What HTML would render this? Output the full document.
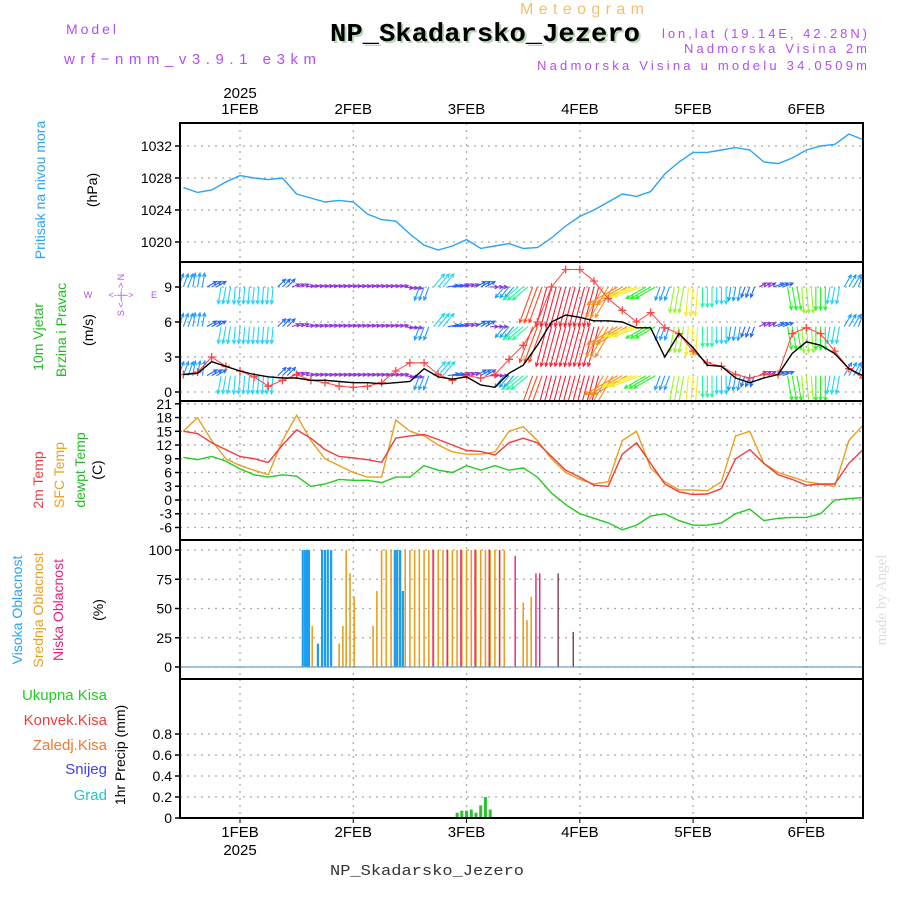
<!DOCTYPE html>
<html><head><meta charset="utf-8"><title>Meteogram NP_Skadarsko_Jezero</title>
<style>
html,body{margin:0;padding:0;background:#fff;}
svg{display:block;font-family:"Liberation Sans",sans-serif;}
</style></head>
<body>
<svg id="chart" width="900" height="900" viewBox="0 0 900 900" xmlns="http://www.w3.org/2000/svg">
<text x="582" y="14" fill="#f0c070" font-size="16" text-anchor="middle" textLength="124" lengthAdjust="spacing">Meteogram</text>
<text x="487" y="43" fill="#b8d8b8" font-size="26" font-weight="bold" font-family="Liberation Mono,monospace" text-anchor="middle" textLength="310" lengthAdjust="spacingAndGlyphs">NP_Skadarsko_Jezero</text>
<text x="485" y="41" fill="#000" font-size="26" font-weight="bold" font-family="Liberation Mono,monospace" text-anchor="middle" textLength="310" lengthAdjust="spacingAndGlyphs">NP_Skadarsko_Jezero</text>
<text x="66" y="34" fill="#b050f0" font-size="14" textLength="50" lengthAdjust="spacing">Model</text>
<text x="64" y="64" fill="#b050f0" font-size="15" textLength="252" lengthAdjust="spacing">wrf−nmm_v3.9.1 e3km</text>
<text x="867" y="38" fill="#b050f0" font-size="13" text-anchor="end" textLength="205" lengthAdjust="spacing">lon,lat (19.14E, 42.28N)</text>
<text x="867" y="53" fill="#b050f0" font-size="13" text-anchor="end" textLength="183" lengthAdjust="spacing">Nadmorska Visina 2m</text>
<text x="867" y="70" fill="#b050f0" font-size="13" text-anchor="end" textLength="330" lengthAdjust="spacing">Nadmorska Visina u modelu 34.0509m</text>
<text x="427" y="875" fill="#333" font-size="15" font-family="Liberation Mono,monospace" text-anchor="middle" textLength="194" lengthAdjust="spacingAndGlyphs">NP_Skadarsko_Jezero</text>
<text transform="translate(886,600) rotate(-90)" fill="#d8e0d8" font-size="15" font-family="Liberation Serif,serif" text-anchor="middle">made by Angel</text>
<g id="g"></g>
</svg>
<script>
const hours=[-12,-9,-6,-3,0,3,6,9,12,15,18,21,24,27,30,33,36,39,42,45,48,51,54,57,60,63,66,69,72,75,78,81,84,87,90,93,96,99,102,105,108,111,114,117,120,123,126,129,132];
const pressure=[1026.8,1026.2,1026.5,1027.5,1028.3,1028,1027.8,1028,1026,1025.5,1025,1025.2,1025,1023.5,1022.8,1022.6,1021,1019.6,1019,1019.5,1020.3,1019.2,1019.5,1019.8,1019.2,1019.3,1020.5,1022,1023.2,1024,1025,1026,1025.7,1026.3,1028.5,1030,1031.2,1031.2,1031.5,1031.8,1031.5,1030,1029.8,1030.5,1031.5,1032,1032.2,1033.5,1032.8];
const windSpeed=[1.5,1.6,2.6,2.2,1.8,1.5,1.3,1.2,1.2,1,1,0.9,0.8,0.8,0.7,0.8,0.9,2,1.3,1.1,1.3,0.6,0.4,1.6,2.3,4,6,6.6,6.4,6.1,6.1,6,5.5,5.5,3,5,3.8,2.3,2.2,1.2,0.8,1.2,1.5,3.3,4.3,4,3.3,2,1.4];
const windGust=[1.5,1.7,3,2.2,1.8,1.3,0.5,1,1.5,1,0.8,0.5,0.4,0.5,0.8,1.8,2.5,2.5,1.5,1,1.4,1.2,1.5,2.8,4,6,9,10.5,10.5,9.5,8,7,6,6.8,5.5,5,3.5,2.5,2.2,1.5,1.2,1.5,1.5,5,5.5,5,3.5,2,1.2];
const arrowSpeed=[3,3,2,4,4,4,4,2,1,1,1,1,1,1,1,1,1,3,4,2,1,2,1,3,5,11,12,12,12,12,10,10,8,6,3,7,8,5,4,3,2,1,2,6,7,6,4,3,3];
const arrowDir=[20,10,60,190,185,185,185,45,70,80,80,80,80,80,80,80,100,200,40,80,70,60,90,220,230,200,195,195,195,195,210,240,250,240,200,190,185,180,180,190,200,60,70,170,175,180,190,30,20];
const temp2m=[15,14.5,12.5,11,9.5,9,8.2,12,15.3,13.5,11,9.5,9.2,8.8,8.2,13.5,14,14.3,13.2,12,10.8,10.6,9.8,12.5,13.5,12.5,9.5,6.5,5,3.2,3,10,12.5,8,3.5,1.8,1.2,1.3,2.5,9,11,8,5.5,4.5,3.2,3.5,3.5,8,11];
const tempSfc=[15,18,13,9,7.5,6.5,5.5,13,18.5,13,9,7.5,6,5,5,17.5,15,14,12,10.5,10,10,10.5,15,16,13,9,6,4.5,3.5,4,13,15,7,4,2.2,2.2,2,4,14,15,8,6,5,4,3.5,3,13,16.3];
const dewpt=[9.3,8.8,9.5,8.5,6.8,5.5,5,5.5,5.2,3,3.5,4.5,4.3,4.3,3.8,5,5,7.5,6.5,6,7.5,6.5,7.5,6.5,7,5,1.5,-1,-3,-4,-5,-6.5,-5.5,-3.5,-3,-4.5,-5.5,-5.5,-5,-3,-2,-4.5,-4,-3.8,-3.8,-3,0,0.3,0.5];
const highCloudT=[13.3,13.8,14.2,14.6,16.5,17.4,18,18.6,19.3,32.8,33.3,33.9,34.5];
const highCloudV=[100,100,100,100,20,100,100,100,100,100,100,100,65];
const midCloudT=[15.3,21,21.8,22.5,23.3,24.2,28.2,29,30,31,32,33,34,35,36,37,38,39,40,41,42,43,44,45,46,47,48,49,50,51,52,53,54,55,56,60,60.8,61.7];
const midCloudV=[35,20,35,100,80,60,35,65,100,100,100,100,100,100,100,100,100,100,100,100,100,100,100,100,100,100,100,100,100,100,100,100,100,100,100,55,40,60];
const lowCloudT=[40.9,43.9,46.8,49.8,52.8,55,58.3,62.7,63.5];
const lowCloudV=[100,100,100,100,100,100,95,80,80];
const totCloudT=[67.4,70.6];
const totCloudV=[80,30];
const precipT=[46,47,48,49,50,51,52,53];
const precipV=[0.05,0.07,0.07,0.08,0.05,0.12,0.2,0.08];
const dayLabels=["1FEB","2FEB","3FEB","4FEB","5FEB","6FEB"];
const pTicks=[1020,1024,1028,1032];
const wTicks=[0,3,6,9];
const tTicks=[-6,-3,0,3,6,9,12,15,18,21];
const cTicks=[0,25,50,75,100];
const rTicks=[0,0.2,0.4,0.6,0.8];

const NS="http://www.w3.org/2000/svg";
const G=document.getElementById('g');
function mk(tag,attrs,parent){const e=document.createElementNS(NS,tag);for(const k in attrs)e.setAttribute(k,attrs[k]);(parent||G).appendChild(e);return e;}
const X0=180,X1=863;
function x(h){return 240+h*4.72;}
const P=[
 {top:123,bot:262,y:v=>146+(1032-v)*8,ticks:pTicks,name:'pressure'},
 {top:262,bot:401,y:v=>392-v*11.67,ticks:wTicks,name:'wind'},
 {top:401,bot:540,y:v=>500-v*4.58,ticks:tTicks,name:'temperature'},
 {top:540,bot:679,y:v=>667-v*1.17,ticks:cTicks,name:'cloud'},
 {top:679,bot:818,y:v=>818-v*105,ticks:rTicks,name:'precip'}
];
P.forEach(p=>{
  const gp=mk('g',{});
  
  
  for(let d=0;d<6;d++){const l=mk('line',{x1:x(d*24),x2:x(d*24),y1:p.top,y2:p.bot,stroke:'#aaa','stroke-dasharray':'2,5','stroke-width':1.3},gp);
    }
  p.ticks.forEach(t=>{const yy=p.y(t);if(yy<p.top-1||yy>p.bot+1)return;
    const l=mk('line',{x1:X0,x2:X1,y1:yy,y2:yy,stroke:'#aaa','stroke-dasharray':'2,5','stroke-width':1.3},gp);
    
    mk('line',{x1:X0-5,x2:X0,y1:yy,y2:yy,stroke:'#000','stroke-width':1.5},gp);
    const tx=mk('text',{x:X0-8,y:yy+5,'font-size':14,'text-anchor':'end',fill:'#000'},gp);tx.textContent=String(t);
    
  });
  p.g=gp;
});
function line(arr,p,color,name){
  const d=hours.map((h,i)=>(i?'L':'M')+x(h).toFixed(1)+','+p.y(arr[i]).toFixed(1)).join('');
  const e=mk('path',{d:d,fill:'none',stroke:color,'stroke-width':1.4});
  
}
const clip=mk('clipPath',{id:'cw'});mk('rect',{x:X0,y:262,width:X1-X0,height:139},clip);
line(pressure,P[0],'#2aa4f4','pressure-line');
function spdColor(s){if(s<1.5)return '#9030e0';const hue=s<2?245:s<4?220-(s-2)*15:s<6?190-(s-4)*35:s<8?120-(s-6)*32:s<10?56-(s-8)*13:30-(s-10)*18;return 'hsl('+((hue+360)%360)+',95%,55%)';}
const wg=mk('g',{'clip-path':'url(#cw)'});

[9,5.6,1.4].forEach((rowV,r)=>{
  hours.forEach((h,i)=>{
    [-1,0,1].forEach(o=>{
      const bx=x(h+o),by=P[1].y(rowV);
      const L=5+arrowSpeed[i]*3*(r==2?1.1:1);const a=arrowDir[i]*Math.PI/180;
      const ex=bx+L*Math.sin(a),ey=by-L*Math.cos(a);
      const c=spdColor(arrowSpeed[i]);
      const hx1=ex-4*Math.sin(a-0.45),hy1=ey+4*Math.cos(a-0.45),hx2=ex-4*Math.sin(a+0.45),hy2=ey+4*Math.cos(a+0.45);
      const ar=mk('path',{d:`M${bx},${by}L${ex},${ey}M${hx1},${hy1}L${ex},${ey}L${hx2},${hy2}`,stroke:c,'stroke-width':1.1,fill:'none'},wg);
      
    });
  });
});
const gg=mk('g',{'clip-path':'url(#cw)'});

const gd=hours.map((h,i)=>(i?'L':'M')+x(h)+','+P[1].y(windGust[i])).join('');
mk('path',{d:gd,fill:'none',stroke:'#f44','stroke-width':1},gg);
hours.forEach((h,i)=>{const cx=x(h),cy=P[1].y(windGust[i]);
  const m=mk('path',{d:`M${cx-4},${cy}H${cx+4}M${cx},${cy-4}V${cy+4}`,stroke:'#f44','stroke-width':1.3},gg);
  });
line(windSpeed,P[1],'#000','wind-speed-line');
line(tempSfc,P[2],'#e8a020','sfc-temp-line');
line(temp2m,P[2],'#f03c3c','temp-2m-line');
line(dewpt,P[2],'#22cc22','dewpoint-line');
function bars(T,V,p,color,w,name){T.forEach((t,i)=>{const yy=p.y(V[i]);const b=mk('rect',{x:x(t)-w/2,y:yy,width:w,height:p.y(0)-yy,fill:color});
  });}
bars(midCloudT,midCloudV,P[3],'#e8a020',1.6,'mid-cloud-bar');
bars(highCloudT,highCloudV,P[3],'#1a9ef0',2.2,'high-cloud-bar');
bars(lowCloudT,lowCloudV,P[3],'#e8207a',1.4,'low-cloud-bar');
bars(totCloudT,totCloudV,P[3],'#602040',1.2,'total-cloud-bar');
mk('line',{x1:X0,x2:X1,y1:667,y2:667,stroke:'#70a0c0','stroke-width':1.2});
bars(precipT,precipV,P[4],'#30c030',3,'precip-bar');
P.forEach(p=>{const r=mk('rect',{x:X0,y:p.top,width:X1-X0,height:p.bot-p.top,fill:'none',stroke:'#000','stroke-width':2});
  });
dayLabels.forEach((d,i)=>{
  const t1=mk('text',{x:x(i*24),y:114,'font-size':15,'text-anchor':'middle',fill:'#000'});t1.textContent=d;
  
  const t2=mk('text',{x:x(i*24),y:837,'font-size':15,'text-anchor':'middle',fill:'#000'});t2.textContent=d;
  
  mk('line',{x1:x(i*24),x2:x(i*24),y1:818,y2:823,stroke:'#000'});
});
const y1=mk('text',{x:x(0),y:98,'font-size':15,'text-anchor':'middle'});y1.textContent='2025';

const y2=mk('text',{x:x(0),y:855,'font-size':15,'text-anchor':'middle'});y2.textContent='2025';

function rot(txt,cx,cy,color,name,size){const t=mk('text',{transform:`translate(${cx},${cy}) rotate(-90)`,'text-anchor':'middle',fill:color,'font-size':size||14});t.textContent=txt;
  }
rot('Pritisak na nivou mora',45,190,'#2aa4f4','pressure-axis-title');
rot('(hPa)',97,190,'#000','pressure-unit');
rot('10m Vjetar',43,337,'#22bb22','wind-axis-title');
rot('Brzina i Pravac',66,330,'#22bb22','wind-axis-subtitle');
rot('(m/s)',93,330,'#000','wind-unit');
rot('2m Temp',43,480,'#f03c3c','temp2m-axis-title');
rot('SFC Temp',64,475,'#e8a020','sfc-temp-axis-title');
rot('dewpt Temp',85,470,'#22bb22','dewpoint-axis-title');
rot('(C)',102,470,'#000','temp-unit');
rot('Visoka Oblacnost',22,610,'#2aa4f4','high-cloud-axis-title');
rot('Srednja Oblacnost',43,610,'#e8a020','mid-cloud-axis-title');
rot('Niska Oblacnost',63,610,'#e8207a','low-cloud-axis-title');
rot('(%)',103,610,'#000','cloud-unit');
rot('1hr Precip (mm)',125,755,'#000','precip-axis-title');
[['Ukupna Kisa','#22cc22',700],['Konvek.Kisa','#f03c3c',725],['Zaledj.Kisa','#f07830',750],['Snijeg','#4040f0',774],['Grad','#20c8c8',800]].forEach(a=>{
  const t=mk('text',{x:107,y:a[2],'text-anchor':'end',fill:a[1],'font-size':15});t.textContent=a[0];
  });
const cg=mk('g',{fill:'#b050f0','font-size':9});

[['W',88,298],['E',154,298],['<--|-->',121,298]].forEach(a=>{const t=mk('text',{x:a[1],y:a[2],'text-anchor':'middle'},cg);t.textContent=a[0];});
const cv=mk('text',{transform:'translate(124,295) rotate(-90)','text-anchor':'middle'},cg);cv.textContent='S <--|--> N';
</script>
</body></html>
